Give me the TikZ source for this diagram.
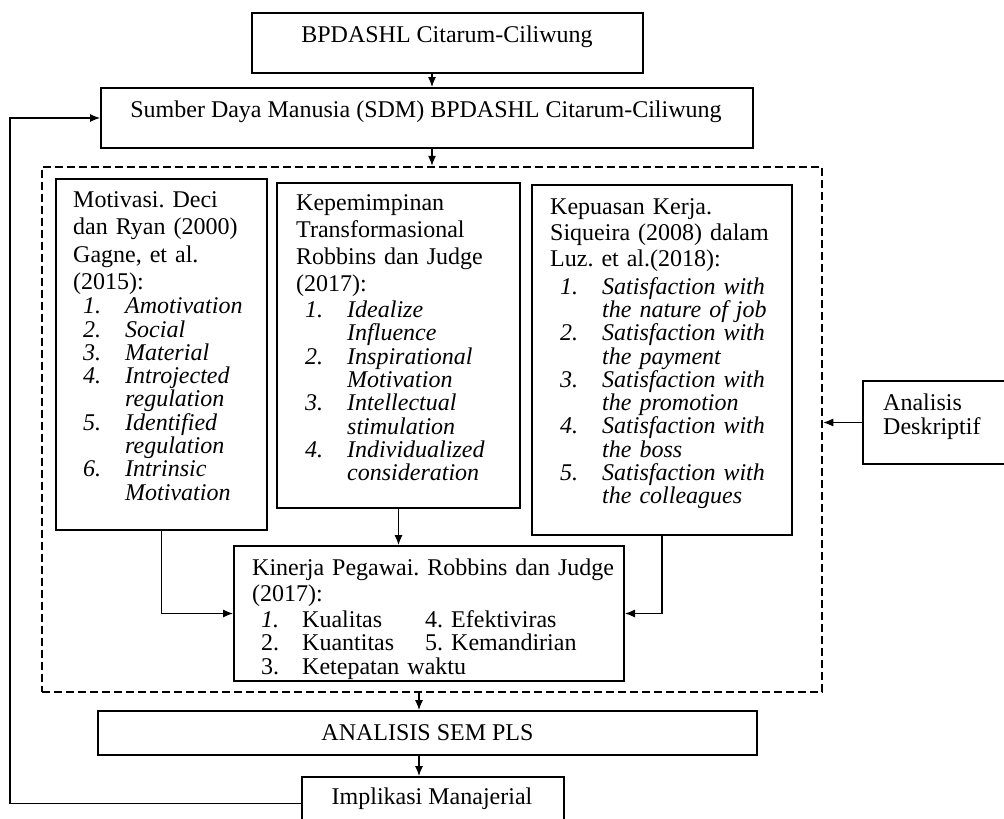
\documentclass[tikz,border=0pt]{standalone}
\usepackage{fontspec}
\setmainfont{Liberation Serif}
\usetikzlibrary{arrows.meta,calc}
\frenchspacing
\newcommand\Li[3][10pt]{\hspace*{#1}\makebox[42pt][l]{#2}#3}
\newcommand\Lc[2][10pt]{\hspace*{#1}\hspace*{42pt}#2}
\begin{document}
\begin{tikzpicture}[x=1pt,y=-1pt,
  box/.style={draw,line width=2pt,inner sep=0pt},
  txt/.style={inner sep=0pt,font=\fontsize{24}{23.3}\selectfont\frenchspacing},
  blk/.style={txt,anchor=base west,text width=#1,align=left},
  arr/.style={line width=1.1pt,-{Latex[length=10pt,width=8pt]}},
  frm/.style={draw,line width=2.5pt,dash pattern=on 8pt off 4pt,inner sep=0pt}]
\useasboundingbox (0,0) rectangle (1004,819);

% boxes
\node[box,minimum width=391pt,minimum height=60pt] (top) at (447.5,43) {};
\node[txt] (topT) at (447,37) {BPDASHL Citarum-Ciliwung};
\node[box,minimum width=652pt,minimum height=60pt] (sdm) at (427,118) {};
\node[txt] (sdmT) at (426,112) {Sumber Daya Manusia (SDM) BPDASHL Citarum-Ciliwung};
\node[frm,minimum width=780pt,minimum height=525pt] (frame) at (432,429.5) {};
\node[box,minimum width=211pt,minimum height=351pt] (mot) at (161.5,354.5) {};
\node[box,minimum width=243pt,minimum height=325pt] (kep) at (398.5,345.5) {};
\node[box,minimum width=260pt,minimum height=350pt] (kpu) at (662,360) {};
\node[box,minimum width=390pt,minimum height=135pt] (kin) at (429,613.5) {};
\node[box,minimum width=147pt,minimum height=83pt] (ana) at (936.5,422.5) {};
\node[box,minimum width=659pt,minimum height=44pt,font=\fontsize{24}{23.3}\selectfont] (sem) at (427.5,733) {ANALISIS SEM PLS};
\node[box,minimum width=262pt,minimum height=53pt] (imp) at (433,803.5) {};
\node[txt] (impT) at (432,799) {Implikasi Manajerial};

% texts
\node[blk=200pt] (motT) at (73,207.5) {Motivasi. Deci\\[4pt]dan Ryan (2000)\\[4pt]Gagne, et al.\\[4pt](2015):\\[1pt]
\itshape\Li{1.}{Amotivation}\\
\Li{2.}{Social}\\
\Li{3.}{Material}\\
\Li{4.}{Introjected}\\
\Lc{regulation}\\
\Li{5.}{Identified}\\
\Lc{regulation}\\
\Li{6.}{Intrinsic}\\
\Lc{Motivation}};

\node[blk=230pt] (kepT) at (296,210.5) {Kepemimpinan\\[3.7pt]Transformasional\\[3.7pt]Robbins dan Judge\\[3.7pt](2017):\\[2.7pt]
\itshape\Li[9pt]{1.}{Idealize}\\
\Lc[9pt]{Influence}\\
\Li[9pt]{2.}{Inspirational}\\
\Lc[9pt]{Motivation}\\
\Li[9pt]{3.}{Intellectual}\\
\Lc[9pt]{stimulation}\\
\Li[9pt]{4.}{Individualized}\\
\Lc[9pt]{consideration}};

\node[blk=240pt] (kpuT) at (550,214.5) {Kepuasan Kerja.\\[3pt]Siqueira (2008) dalam\\[2pt]Luz. et al.(2018):\\[4.7pt]
\itshape\Li{1.}{Satisfaction with}\\
\Lc{the nature of job}\\
\Li{2.}{Satisfaction with}\\
\Lc{the payment}\\
\Li{3.}{Satisfaction with}\\
\Lc{the promotion}\\
\Li{4.}{Satisfaction with}\\
\Lc{the boss}\\
\Li{5.}{Satisfaction with}\\
\Lc{the colleagues}};

\node[blk=370pt] (kinT) at (252,575.5) {Kinerja Pegawai. Robbins dan Judge\\[2.7pt](2017):\\[2.7pt]
\hspace*{9pt}\makebox[41pt][l]{\itshape 1.}\makebox[123pt][l]{Kualitas}4. Efektiviras\\
\hspace*{9pt}\makebox[41pt][l]{2.}\makebox[123pt][l]{Kuantitas}5. Kemandirian\\
\hspace*{9pt}\makebox[41pt][l]{3.}Ketepatan waktu};

\node[blk=130pt] (anaT) at (883,410.5) {Analisis\\[0.7pt]Deskriptif};

% connectors
\coordinate (a1) at (432,0);
\coordinate (a2) at (419,0);
\coordinate (fb) at (10,0);
\draw[arr] (top.south -| a1) -- (sdm.north -| a1);
\draw[arr] (sdm.south -| a1) -- (frame.north -| a1);
\draw[arr] (frame.south -| a2) -- (sem.north -| a2);
\draw[arr] (sem.south -| a2) -- (imp.north -| a2);
\draw[arr] (ana.west) -- (frame.east |- ana.west);
\draw[arr] (mot.south) |- (kin.west);
\draw[arr] (kep.south) -- (kep.south |- kin.north);
\draw[arr] (kpu.south) |- (kin.east);
\draw[arr] (imp.west) -- (imp.west -| fb) |- (sdm.west);
\end{tikzpicture}
\end{document}
